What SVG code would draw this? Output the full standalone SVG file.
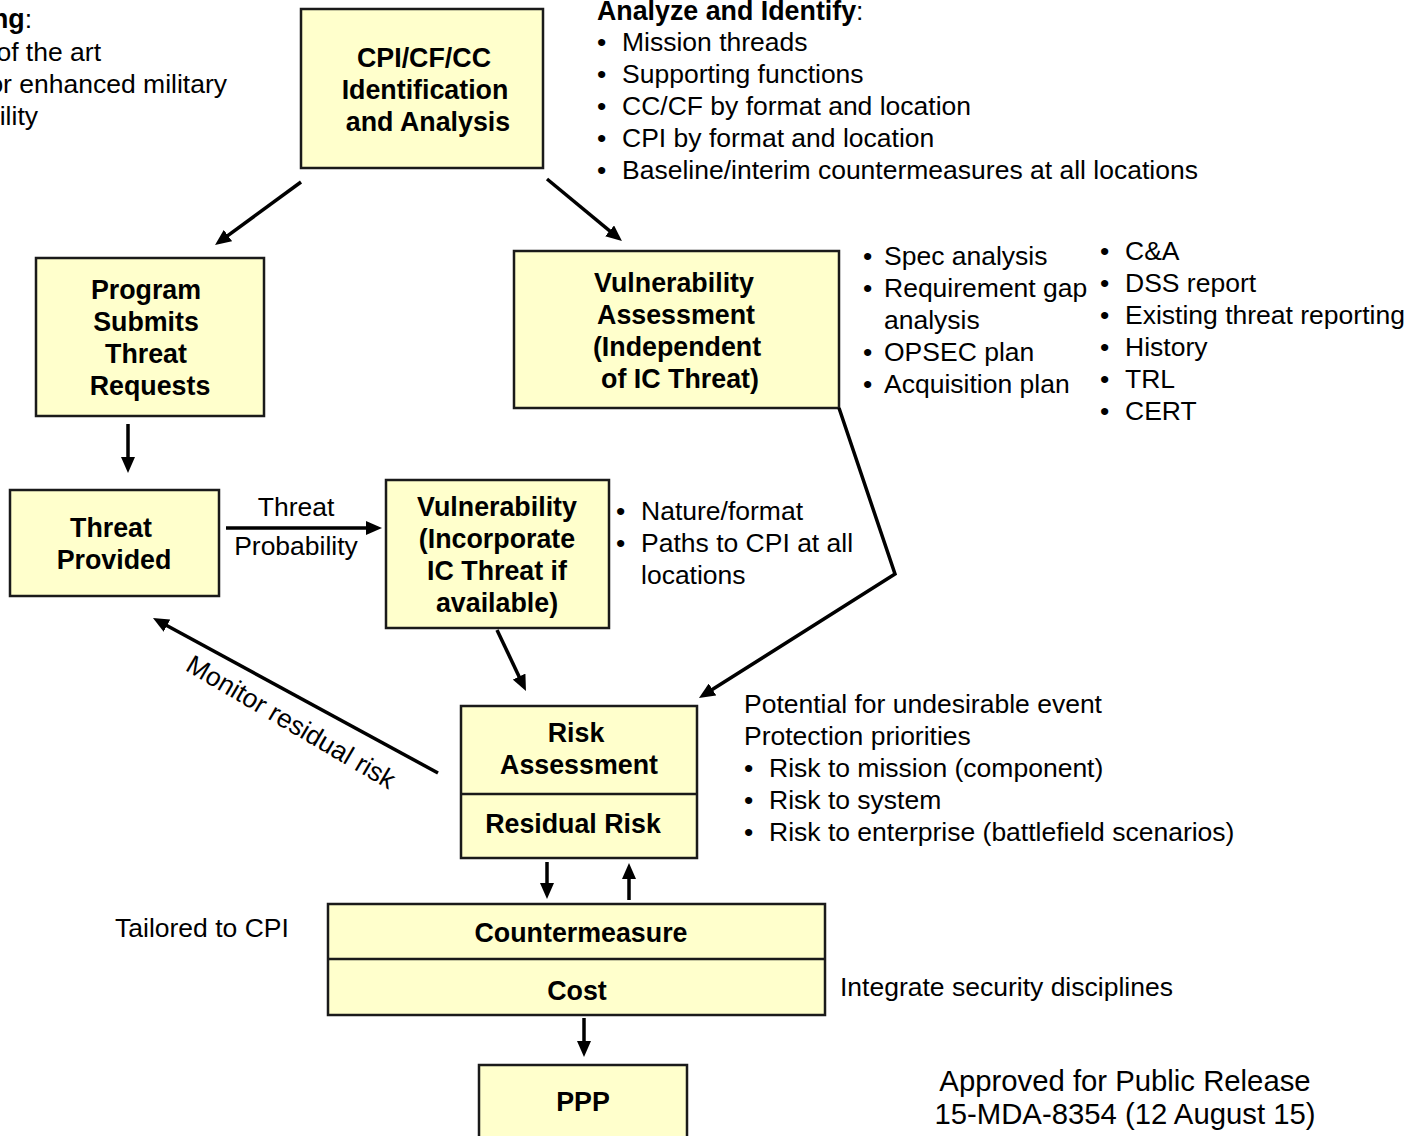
<svg xmlns="http://www.w3.org/2000/svg" width="1409" height="1136" viewBox="0 0 1409 1136">
<style>
text{font-family:"Liberation Sans",Arial,sans-serif;font-size:26.5px;fill:#000}
.b{font-weight:bold;font-size:26.8px}
.c{text-anchor:middle}
.e{text-anchor:end}
.rel{font-size:29.3px}
.box{fill:#FFFFCC;stroke:#1a1a1a;stroke-width:2.5}
.div{stroke:#1a1a1a;stroke-width:2.5}
.con{fill:none;stroke:#000;stroke-width:3.5;marker-end:url(#ah)}
</style>
<defs>
<marker id="ah" markerUnits="userSpaceOnUse" markerWidth="16" markerHeight="14" refX="4" refY="7" orient="auto">
<path d="M0,0 L16,7 L0,14 z" fill="#000"/>
</marker>
</defs>
<rect width="1409" height="1136" fill="#fff"/>

<g id="note-topleft">
<text x="32" y="28" class="e"><tspan class="b">ng</tspan>:</text>
<text x="101" y="61" class="e">of the art</text>
<text x="227" y="93" class="e">or enhanced military</text>
<text x="38" y="125" class="e">ility</text>
</g>

<g id="note-analyze">
<text x="597" y="20"><tspan class="b">Analyze and Identify</tspan>:</text>
<text x="597" y="51">•</text><text x="622" y="51">Mission threads</text>
<text x="597" y="83">•</text><text x="622" y="83">Supporting functions</text>
<text x="597" y="115">•</text><text x="622" y="115">CC/CF by format and location</text>
<text x="597" y="147">•</text><text x="622" y="147">CPI by format and location</text>
<text x="597" y="179">•</text><text x="622" y="179">Baseline/interim countermeasures at all locations</text>
</g>

<g id="node-cpi">
<rect class="box" x="301" y="9" width="242" height="159"/>
<text class="b c" x="424" y="67">CPI/CF/CC</text>
<text class="b c" x="425" y="99">Identification</text>
<text class="b c" x="428" y="131">and Analysis</text>
</g>

<g id="node-program">
<rect class="box" x="36" y="258" width="228" height="158"/>
<text class="b c" x="146" y="299">Program</text>
<text class="b c" x="146" y="331">Submits</text>
<text class="b c" x="146" y="363">Threat</text>
<text class="b c" x="150" y="395">Requests</text>
</g>

<g id="node-vulassess">
<rect class="box" x="514" y="251" width="325" height="157"/>
<text class="b c" x="674" y="292">Vulnerability</text>
<text class="b c" x="676" y="324">Assessment</text>
<text class="b c" x="677" y="356">(Independent</text>
<text class="b c" x="680" y="388">of IC Threat)</text>
</g>

<g id="note-vulassess">
<text x="863" y="265">•</text><text x="884" y="265">Spec analysis</text>
<text x="863" y="297">•</text><text x="884" y="297">Requirement gap</text>
<text x="884" y="329">analysis</text>
<text x="863" y="361">•</text><text x="884" y="361">OPSEC plan</text>
<text x="863" y="393">•</text><text x="884" y="393">Acquisition plan</text>
<text x="1100" y="260">•</text><text x="1125" y="260">C&amp;A</text>
<text x="1100" y="292">•</text><text x="1125" y="292">DSS report</text>
<text x="1100" y="324">•</text><text x="1125" y="324">Existing threat reporting</text>
<text x="1100" y="356">•</text><text x="1125" y="356">History</text>
<text x="1100" y="388">•</text><text x="1125" y="388">TRL</text>
<text x="1100" y="420">•</text><text x="1125" y="420">CERT</text>
</g>

<g id="node-threat">
<rect class="box" x="10" y="490" width="209" height="106"/>
<text class="b c" x="111" y="537">Threat</text>
<text class="b c" x="114" y="569">Provided</text>
</g>

<g id="node-vulinc">
<rect class="box" x="386" y="480" width="223" height="148"/>
<text class="b c" x="497" y="516">Vulnerability</text>
<text class="b c" x="497" y="548">(Incorporate</text>
<text class="b c" x="497" y="580">IC Threat if</text>
<text class="b c" x="497" y="612">available)</text>
</g>

<g id="note-vulinc">
<text x="616" y="520">•</text><text x="641" y="520">Nature/format</text>
<text x="616" y="552">•</text><text x="641" y="552">Paths to CPI at all</text>
<text x="641" y="584">locations</text>
</g>

<g id="node-risk">
<rect class="box" x="461" y="706" width="236" height="152"/>
<line class="div" x1="461" y1="794" x2="697" y2="794"/>
<text class="b c" x="576" y="742">Risk</text>
<text class="b c" x="579" y="774">Assessment</text>
<text class="b c" x="573" y="833">Residual Risk</text>
</g>

<g id="note-risk">
<text x="744" y="713">Potential for undesirable event</text>
<text x="744" y="745">Protection priorities</text>
<text x="744" y="777">•</text><text x="769" y="777">Risk to mission (component)</text>
<text x="744" y="809">•</text><text x="769" y="809">Risk to system</text>
<text x="744" y="841">•</text><text x="769" y="841">Risk to enterprise (battlefield scenarios)</text>
</g>

<g id="node-countermeasure">
<rect class="box" x="328" y="904" width="497" height="111"/>
<line class="div" x1="328" y1="959" x2="825" y2="959"/>
<text class="b c" x="581" y="942">Countermeasure</text>
<text class="b c" x="577" y="1000">Cost</text>
</g>

<text x="115" y="937">Tailored to CPI</text>
<text x="840" y="996">Integrate security disciplines</text>

<g id="node-ppp">
<rect class="box" x="479" y="1065" width="208" height="80"/>
<text class="b c" x="583" y="1111">PPP</text>
</g>

<g id="note-release">
<text class="c rel" x="1125" y="1091">Approved for Public Release</text>
<text class="c rel" x="1125" y="1124">15-MDA-8354 (12 August 15)</text>
</g>

<g id="connectors">
<line class="con" x1="301" y1="182" x2="224.7" y2="237.9"/>
<line class="con" x1="547" y1="179" x2="612.7" y2="233.4"/>
<line class="con" x1="128" y1="424" x2="128" y2="461"/>
<line class="con" x1="226" y1="528" x2="370" y2="528"/>
<polyline class="con" points="839,408 895,574 709.1,691.6"/>
<line class="con" x1="497" y1="630" x2="520.8" y2="680.2"/>
<line class="con" x1="438" y1="773" x2="163.5" y2="623.7"/>
<line class="con" x1="547" y1="862" x2="547" y2="887"/>
<line class="con" x1="629" y1="900" x2="629" y2="875"/>
<line class="con" x1="584" y1="1018" x2="584" y2="1045"/>
<text class="c" x="296" y="516">Threat</text>
<text class="c" x="296" y="555">Probability</text>
<text class="c" transform="translate(291,722) rotate(30.4)" x="0" y="9">Monitor residual risk</text>
</g>
</svg>
